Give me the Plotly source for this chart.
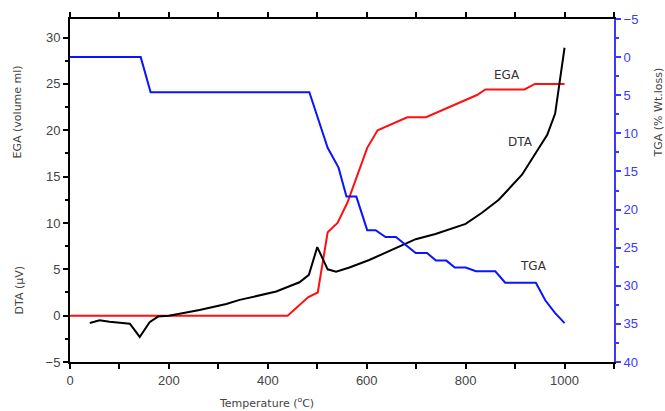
import plotly.graph_objects as go

# TGA (% wt loss) vs temperature
tga_t = [0, 143, 163, 484, 521, 543, 559, 579, 601, 618, 638, 659, 699, 722, 740, 761, 778, 800, 821, 860, 880, 942, 961, 981, 993, 1000]
tga_v = [0, 0, 4.6, 4.6, 11.9, 14.5, 18.3, 18.3, 22.7, 22.7, 23.6, 23.6, 25.7, 25.7, 26.7, 26.7, 27.6, 27.6, 28.1, 28.1, 29.6, 29.6, 31.9, 33.6, 34.4, 34.9]

# EGA (volume ml)
ega_t = [0, 440, 482, 501, 521, 541, 561, 601, 622, 682, 720, 759, 823, 840, 919, 940, 1000]
ega_v = [0, 0, 2.0, 2.5, 9.0, 10.0, 12.2, 18.1, 20.0, 21.4, 21.4, 22.3, 23.8, 24.4, 24.4, 25.0, 25.0]

# DTA (uV)
dta_t = [40, 60, 80, 121, 141, 161, 178, 200, 262, 316, 343, 417, 464, 483, 500, 521, 538, 565, 605, 699, 739, 766, 800, 833, 867, 914, 941, 965, 981, 988, 1000]
dta_v = [-0.8, -0.5, -0.65, -0.87, -2.3, -0.7, -0.1, 0.0, 0.6, 1.25, 1.7, 2.6, 3.6, 4.4, 7.4, 5.0, 4.75, 5.2, 6.0, 8.25, 8.8, 9.3, 9.9, 11.1, 12.5, 15.2, 17.4, 19.5, 21.8, 24.5, 28.9]

BLUE = "#0a14ff"
AXBLUE = "#3a3aff"
GRAY = "#444444"

fig = go.Figure()
fig.add_trace(go.Scatter(x=ega_t, y=ega_v, mode="lines", line=dict(color="#ff1010", width=2), showlegend=False))
fig.add_trace(go.Scatter(x=dta_t, y=dta_v, mode="lines", line=dict(color="#000000", width=2), showlegend=False))
fig.add_trace(go.Scatter(x=tga_t, y=tga_v, mode="lines", line=dict(color=BLUE, width=2), yaxis="y2", showlegend=False))

tickfont = dict(family="Liberation Sans, Arial, sans-serif", size=13, color=GRAY)

fig.update_layout(
    width=665, height=411,
    margin=dict(l=70, r=51, t=17, b=49),
    plot_bgcolor="white", paper_bgcolor="white",
    xaxis=dict(range=[0, 1100], dtick=200, tick0=0, showgrid=False, zeroline=False,
               showline=True, linecolor="black", linewidth=2, mirror="ticks",
               ticks="outside", ticklen=5, tickwidth=1.5, tickcolor="black",
               minor=dict(dtick=100, ticks="outside", ticklen=5, tickwidth=1.5, tickcolor="black"),
               tickfont=tickfont),
    yaxis=dict(range=[-5, 32], dtick=5, tick0=0, showgrid=False, zeroline=False,
               showline=True, linecolor="black", linewidth=2,
               ticks="outside", ticklen=5, tickwidth=1.5, tickcolor="black",
               minor=dict(dtick=2.5, ticks="outside", ticklen=3, tickwidth=1.5, tickcolor="black"),
               tickfont=tickfont),
    yaxis2=dict(range=[40, -5], overlaying="y", side="right", dtick=5, tick0=0,
                showgrid=False, zeroline=False, showline=True, linecolor=AXBLUE, linewidth=2,
                ticks="outside", ticklen=5, tickwidth=1.5, tickcolor=AXBLUE,
                minor=dict(dtick=2.5, ticks="outside", ticklen=3, tickwidth=1.5, tickcolor=AXBLUE),
                tickfont=dict(family="Liberation Sans, Arial, sans-serif", size=13, color=AXBLUE)),
)

titlefont = dict(family="DejaVu Sans, Verdana, sans-serif", size=11, color=GRAY)
labelfont = dict(family="DejaVu Sans, Verdana, sans-serif", size=12, color="#333333")

def px2paper(px, py):
    return (px - 70) / 544.0, (362 - py) / 345.0

annos = [
    ("EGA (volume ml)", 17, 111, -90, titlefont),
    ("DTA (\u00b5V)", 19, 290, -90, titlefont),
    ("TGA (% Wt.loss)", 658, 111, -90, titlefont),
    ("Temperature (<sup>o</sup>C)", 266, 403, 0, titlefont),
    ("EGA", 507, 73, 0, labelfont),
    ("DTA", 520, 141, 0, labelfont),
    ("TGA", 533, 265, 0, labelfont),
]
for text, px, py, ang, f in annos:
    x, y = px2paper(px, py)
    fig.add_annotation(text=text, x=x, y=y, xref="paper", yref="paper", showarrow=False,
                       textangle=ang, font=f, xanchor="center", yanchor="middle")

fig.write_html("out.html")
